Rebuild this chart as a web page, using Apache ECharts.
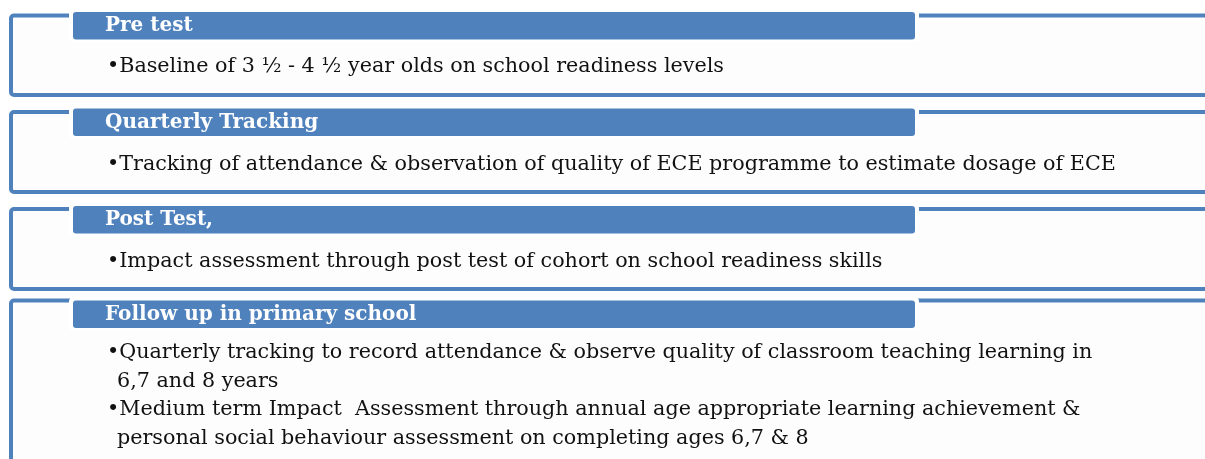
<!DOCTYPE html>
<html>
<head>
<meta charset="utf-8">
<script src="https://cdn.jsdelivr.net/npm/echarts@6/dist/echarts.min.js"></script>
<style>
  html, body { margin: 0; padding: 0; background: #fff; }
  #main { width: 1205px; height: 459px; }
</style>
</head>
<body>
<div id="main"></div>
<script>
// steps of the evaluation design
const stepTitles = ['Pre test', 'Quarterly Tracking', 'Post Test,', 'Follow up in primary school'];
// each bullet is a list of lines (wrapped as in the slide)
const stepBullets = [
  [['Baseline of 3 \u00bd - 4 \u00bd year olds on school readiness levels']],
  [['Tracking of attendance & observation of quality of ECE programme to estimate dosage of ECE']],
  [['Impact assessment through post test of cohort on school readiness skills']],
  [
    ['Quarterly tracking to record attendance & observe quality of classroom teaching learning in', '6,7 and 8 years'],
    ['Medium term Impact  Assessment through annual age appropriate learning achievement &', 'personal social behaviour assessment on completing ages 6,7 & 8']
  ]
];

// layout (pixels)
const frameTop = [15.5, 112, 209, 300.5];
const frameBottom = [95, 192, 289, 520];
const headTop = [12, 108.5, 206, 300.5];
const headH = 27.5;
const lineStarts = [[67], [165], [262], [353, 410]];
const lineGap = 28.5;
const blue = '#4f81bd';
const font = '"DejaVu Serif", serif';

const chart = echarts.init(document.getElementById('main'));
const elements = [];

stepTitles.forEach(function (title, i) {
  // outer frame, open to the right edge
  elements.push({
    type: 'rect',
    shape: { x: 11, y: frameTop[i], width: 1400, height: frameBottom[i] - frameTop[i], r: 3 },
    style: { fill: '#fdfdfd', stroke: blue, lineWidth: 4 },
    z: 1
  });
  // white halo behind the header bar
  elements.push({
    type: 'rect',
    shape: { x: 69, y: headTop[i] - 3, width: 850, height: headH + 6, r: 4 },
    style: { fill: '#ffffff' },
    z: 2
  });
  elements.push({
    type: 'rect',
    shape: { x: 73, y: headTop[i], width: 842, height: headH, r: 3 },
    style: { fill: blue },
    z: 3
  });
  elements.push({
    type: 'text',
    x: 105, y: headTop[i] + headH / 2 + 0.5,
    style: {
      text: title, fill: '#ffffff', fontFamily: font, fontWeight: 'bold',
      fontSize: 20, align: 'left', verticalAlign: 'middle'
    },
    z: 4
  });
  // bullets
  stepBullets[i].forEach(function (lines, b) {
    lines.forEach(function (txt, k) {
      elements.push({
        type: 'text',
        x: k === 0 ? 107 : 117,
        y: lineStarts[i][b] + k * lineGap,
        style: {
          text: (k === 0 ? '\u2022' : '') + txt, fill: '#111111', fontFamily: font,
          fontSize: 20.7, align: 'left', verticalAlign: 'middle'
        },
        z: 4
      });
    });
  });
});

chart.setOption({
  backgroundColor: '#ffffff',
  animation: false,
  graphic: { elements: elements }
});
</script>
</body>
</html>
